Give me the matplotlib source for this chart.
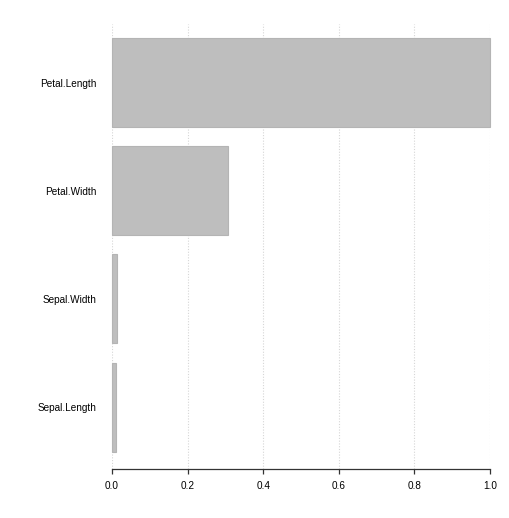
import matplotlib.pyplot as plt
import numpy as np

plt.rcParams['font.family'] = ['Liberation Sans', 'DejaVu Sans']

# variable importance, bottom to top
features = ['Sepal.Length', 'Sepal.Width', 'Petal.Width', 'Petal.Length']
importance = [0.011, 0.013, 0.308, 1.0]
xticks = [0.0, 0.2, 0.4, 0.6, 0.8, 1.0]

fig = plt.figure(figsize=(5.1, 5.18), dpi=100)
ax = fig.add_axes([112 / 510, 49 / 518, 378 / 510, 445 / 518])

ypos = np.arange(len(features))
ax.barh(ypos, importance, height=0.824, color='#bebebe',
        edgecolor='#b4b4b4', linewidth=0.8, zorder=2, clip_on=False)

ax.set_xlim(0, 1)
ax.set_ylim(-0.574, 3.546)
ax.set_yticks(ypos)
ax.set_yticklabels(features)
ax.set_xticks(xticks)
ax.set_xticklabels(['%.1f' % t for t in xticks])

for t in xticks:
    ax.axvline(t, color='#d6d6d6', linestyle=(0, (1, 1.5)), linewidth=0.8, zorder=1,
               ymin=0, ymax=1)

for s in ['top', 'right', 'left']:
    ax.spines[s].set_visible(False)
ax.spines['bottom'].set_color('#333333')
ax.spines['bottom'].set_linewidth(0.9)
ax.spines['bottom'].set_bounds(0, 1)

ax.tick_params(axis='y', length=0, pad=11.5, labelsize=7.2, labelcolor='black')
ax.tick_params(axis='x', length=3.6, width=0.9, color='#333333', pad=5,
               labelsize=7.2, labelcolor='black')

fig.savefig('out.png', dpi=100)
